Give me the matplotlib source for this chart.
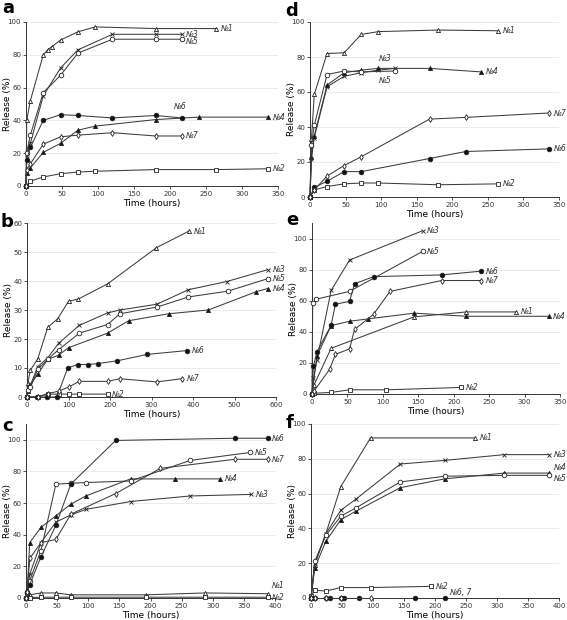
import matplotlib
matplotlib.use("Agg")
import matplotlib.pyplot as plt

# ---- panel a ----
a_t1 = [0, 1, 6, 24, 30, 36, 48, 72, 96, 180, 264]
a_y1 = [0, 40, 52, 80, 83, 85, 89, 94, 97, 96, 96]
a_t2 = [0, 6, 24, 48, 72, 96, 180, 264, 336]
a_y2 = [0, 3, 5.5, 7.5, 8.5, 9, 10, 10, 10.5]
a_t3 = [0, 1, 6, 24, 48, 72, 120, 180, 216]
a_y3 = [0, 17, 26, 55, 72, 83, 92.5, 92.5, 92.5]
a_t4 = [0, 1, 6, 24, 48, 72, 96, 180, 240, 336]
a_y4 = [0, 8, 11, 20.5, 26, 34, 36.5, 40.5, 42, 42]
a_t5 = [0, 1, 6, 24, 48, 72, 120, 180, 216]
a_y5 = [0, 20, 31, 57, 67.5, 81, 89.5, 89.5, 89.5]
a_t6 = [0, 1, 6, 24, 48, 72, 120, 180, 216]
a_y6 = [0, 16, 23.5, 40, 43.5, 43, 41.5, 43, 41.5]
a_t7 = [0, 1, 6, 24, 48, 72, 120, 180, 216]
a_y7 = [0, 10, 13.5, 25.5, 30, 31, 32.5, 30.5, 30.5]

# ---- panel b ----
b_t1 = [0, 2, 8, 26, 50, 74, 100, 124, 194, 312, 390]
b_y1 = [0, 4.8, 9.2, 13.2, 24, 27, 33, 33.8, 39, 51.5, 57.2]
b_t2 = [0, 26, 50, 76, 100, 126, 194]
b_y2 = [0, 0, 1, 1, 1, 1, 1]
b_t3 = [0, 2, 8, 26, 50, 76, 126, 194, 224, 313, 389, 481, 580]
b_y3 = [0, 3, 4, 10.5, 13.5, 18.5, 24.7, 29, 30, 32, 37, 39.8, 43.9]
b_t4 = [0, 2, 8, 26, 50, 76, 100, 194, 245, 341, 437, 552, 580]
b_y4 = [0, 2, 4, 8, 13, 14.4, 17, 22, 26.3, 28.7, 30, 36.3, 37.4]
b_t5 = [0, 2, 8, 26, 50, 76, 126, 194, 224, 313, 389, 484, 580]
b_y5 = [0, 2.5, 3.5, 9.5, 13, 16.3, 22, 25, 28.7, 31, 34.5, 36.5, 40.8]
b_t6 = [0, 24, 48, 72, 98, 122, 146, 170, 218, 290, 385]
b_y6 = [0, 0, 0, 0, 10, 11.2, 11.2, 11.5, 12.5, 14.7, 16]
b_t7 = [0, 26, 50, 76, 100, 126, 194, 224, 313, 373]
b_y7 = [0, 0, 1.2, 2, 3.4, 5.4, 5.4, 6.3, 5.2, 6.3]

# ---- panel c ----
c_t1 = [0, 6, 24, 48, 72, 192, 288, 388]
c_y1 = [0, 2, 3.2, 3.2, 2, 2, 3.2, 2.7]
c_t2 = [0, 6, 24, 48, 72, 192, 288, 388]
c_y2 = [0, 0.3, 0.5, 0.5, 0.5, 0.5, 0.5, 0.5]
c_t3 = [0, 2, 6, 24, 48, 72, 96, 168, 264, 362]
c_y3 = [0, 3, 15, 35, 48, 52.5, 56, 61, 64.5, 65.5]
c_t4 = [0, 2, 6, 24, 48, 72, 96, 168, 240, 312]
c_y4 = [0, 5, 35, 44.6, 52, 59.3, 64.5, 75.3, 75.3, 75.3]
c_t5 = [0, 2, 6, 24, 48, 72, 96, 168, 264, 360]
c_y5 = [0, 3, 11, 30, 72, 72.5, 73, 74, 87, 92]
c_t6 = [0, 2, 6, 24, 48, 72, 144, 336, 388]
c_y6 = [0, 3.8, 8.5, 26, 46, 72, 99.6, 101, 101]
c_t7 = [0, 2, 6, 24, 48, 72, 144, 216, 336, 388]
c_y7 = [0, 4, 25, 35, 37, 53, 66, 82, 87.7, 87.7]

# ---- panel d ----
d_t1 = [0, 2, 6, 24, 48, 72, 96, 180, 264]
d_y1 = [0, 33, 58.6, 82, 82.4, 92.9, 94.5, 95.4, 95]
d_t2 = [0, 6, 24, 48, 72, 96, 180, 264]
d_y2 = [0, 4, 6, 7.5, 8, 8, 7, 7.5]
d_t3 = [0, 2, 6, 24, 48, 72, 96, 120]
d_y3 = [0, 22, 34, 63, 69, 71, 72.5, 73.5]
d_t4 = [0, 2, 6, 24, 48, 72, 96, 168, 240]
d_y4 = [0, 23, 35, 64, 71, 72.5, 73.5, 73.5, 71.5]
d_t5 = [0, 2, 6, 24, 48, 72, 120]
d_y5 = [0, 30, 41, 70, 72, 71.5, 72]
d_t6 = [0, 6, 24, 48, 72, 168, 219, 336]
d_y6 = [0, 5.5, 9, 14.5, 14.5, 22, 26, 27.5]
d_t7 = [0, 6, 24, 48, 72, 168, 219, 336]
d_y7 = [0, 4, 12, 18, 23, 44.5, 45.5, 48]

# ---- panel e ----
e_t1 = [0, 3, 27, 144, 218, 288]
e_y1 = [0, 6, 29.4, 49.6, 52.8, 52.8]
e_t2 = [0, 3, 27, 53, 105, 210]
e_y2 = [0, 0.5, 1, 2.7, 2.7, 4.2]
e_t3 = [0, 2, 7, 27, 53, 156]
e_y3 = [0, 10, 22, 66.6, 86.2, 105]
e_t4 = [0, 7, 27, 53, 79, 144, 218, 335]
e_y4 = [0, 24.5, 44, 46.8, 48.3, 52, 50, 50]
e_t5 = [0, 1, 6, 53, 156]
e_y5 = [0, 58.5, 61, 66, 91.7]
e_t6 = [0, 2, 7, 27, 33, 53, 60, 87, 183, 238]
e_y6 = [0, 18, 27.2, 44.2, 57.7, 59.6, 70.9, 75.5, 76.6, 79]
e_t7 = [0, 3, 25, 33, 53, 60, 87, 110, 183, 238]
e_y7 = [0, 2, 16, 25.5, 29, 41.5, 51.3, 66, 73, 73]

# ---- panel f ----
f_t1 = [0, 6, 24, 48, 96, 264]
f_y1 = [0, 19, 37, 64, 92, 92]
f_t2 = [0, 6, 24, 48, 96, 194]
f_y2 = [1, 4.5, 4, 6, 6, 6.7]
f_t3 = [0, 6, 24, 48, 72, 144, 216, 312, 384]
f_y3 = [0, 20, 37, 50.4, 56.7, 77, 79.1, 82.4, 82.4]
f_t4 = [0, 6, 24, 48, 72, 144, 216, 312, 384]
f_y4 = [0, 17.2, 32.6, 45, 49.8, 63.4, 68.5, 71.8, 71.8]
f_t5 = [0, 6, 24, 48, 72, 144, 216, 312, 384]
f_y5 = [0, 21, 36, 47, 51.7, 66.7, 70, 70.5, 70.5]
f_t6 = [0, 6, 24, 30, 48, 54, 78, 168, 216]
f_y6 = [0, 0, 0, 0, 0, 0, 0, 0, 0]
f_t7 = [0, 6, 24, 48, 96]
f_y7 = [0, 0, 0, 0, 0]

# marker style for each formulation
styles = {
    1: dict(marker='^', mfc='white', ms=3),
    2: dict(marker='s', mfc='white', ms=3.3),
    3: dict(marker='x', mfc='none', ms=3),
    4: dict(marker='^', mfc='#111111', ms=3),
    5: dict(marker='o', mfc='white', ms=3.3),
    6: dict(marker='o', mfc='#111111', ms=3.3),
    7: dict(marker='d', mfc='white', ms=3),
}

panels = [
    # letter, axes box (px), letter pos (px), xmax, xstep, ymax, ytop, series, label offsets
    ('a', [26, 22, 278, 186], (2, 13), 350, 50, 100, 100,
     {1: (a_t1, a_y1), 2: (a_t2, a_y2), 3: (a_t3, a_y3), 4: (a_t4, a_y4),
      5: (a_t5, a_y5), 6: (a_t6, a_y6), 7: (a_t7, a_y7)},
     {6: (-6, 8), 5: (3, -2)}),
    ('d', [310, 22, 559, 197], (285, 16), 350, 50, 100, 100,
     {1: (d_t1, d_y1), 2: (d_t2, d_y2), 3: (d_t3, d_y3), 4: (d_t4, d_y4),
      5: (d_t5, d_y5), 6: (d_t6, d_y6), 7: (d_t7, d_y7)},
     {3: (-12, 7), 5: (-12, -7)}),
    ('b', [27, 223, 276, 397], (1, 227), 600, 100, 60, 60,
     {1: (b_t1, b_y1), 2: (b_t2, b_y2), 3: (b_t3, b_y3), 4: (b_t4, b_y4),
      5: (b_t5, b_y5), 6: (b_t6, b_y6), 7: (b_t7, b_y7)},
     {}),
    ('e', [312, 223, 560, 394], (286, 225), 350, 50, 100, 110,
     {1: (e_t1, e_y1), 2: (e_t2, e_y2), 3: (e_t3, e_y3), 4: (e_t4, e_y4),
      5: (e_t5, e_y5), 6: (e_t6, e_y6), 7: (e_t7, e_y7)},
     {4: (2, 0)}),
    ('c', [26, 424, 275, 598], (2, 431), 400, 50, 100, 110,
     {1: (c_t1, c_y1), 2: (c_t2, c_y2), 3: (c_t3, c_y3), 4: (c_t4, c_y4),
      5: (c_t5, c_y5), 6: (c_t6, c_y6), 7: (c_t7, c_y7)},
     {1: (3, 6), 2: (3, 0)}),
    ('f', [311, 424, 559, 598], (286, 428), 400, 50, 100, 100,
     {1: (f_t1, f_y1), 2: (f_t2, f_y2), 3: (f_t3, f_y3), 4: (f_t4, f_y4),
      5: (f_t5, f_y5), 6: (f_t6, f_y6), 7: (f_t7, f_y7)},
     {4: (3, 4), 5: (3, -2)}),
]

W, H = 567, 620
fig = plt.figure(figsize=(W / 100, H / 100), dpi=100)

for letter, (x0, y0, x1, y1), (lx, ly), xmax, xstep, ymax, ytop, series, offs in panels:
    ax = fig.add_axes([x0 / W, 1 - y1 / H, (x1 - x0) / W, (y1 - y0) / H])
    for num, (t, y) in series.items():
        st = styles[num]
        ax.plot(t, y, color='#3c3c3c', lw=0.75, marker=st['marker'], ms=st['ms'],
                mfc=st['mfc'], mec='#222222', mew=0.6, clip_on=False, zorder=3)
        if letter == 'f' and num == 7:
            continue
        label = '№6, 7' if (letter == 'f' and num == 6) else '№%d' % num
        dx, dy = offs.get(num, (3, 0))
        if letter == 'f' and num == 6:
            dx, dy = (3, 4)
        ax.annotate(label, (t[-1], y[-1]), xytext=(dx, dy), textcoords='offset points',
                    fontsize=5.5, style='italic', color='#333333', va='center', ha='left',
                    annotation_clip=False)
    ax.set_xlim(0, xmax)
    ax.set_ylim(0, ytop)
    ax.set_xticks(range(0, xmax + 1, xstep))
    ax.set_yticks(range(0, ymax + 1, 20 if ymax == 100 else 10))
    ax.tick_params(labelsize=5, length=2, width=0.6, pad=1.5, colors='#333333')
    ax.yaxis.grid(True, color='#e8e8e8', lw=0.6)
    ax.set_axisbelow(True)
    for s in ['top', 'right']:
        ax.spines[s].set_visible(False)
    for s in ['left', 'bottom']:
        ax.spines[s].set_linewidth(0.7)
        ax.spines[s].set_color('#333333')
    ax.set_xlabel('Time (hours)', fontsize=6.5, labelpad=1.5)
    ax.set_ylabel('Release (%)', fontsize=6.5)
    # y label sits about 14 px left of the axis line
    ax.yaxis.set_label_coords(-14 / (x1 - x0), 0.5)
    fig.text(lx / W, 1 - ly / H, letter, fontsize=13, fontweight='bold',
             va='baseline', ha='left')

fig.savefig('out.png', dpi=100)
